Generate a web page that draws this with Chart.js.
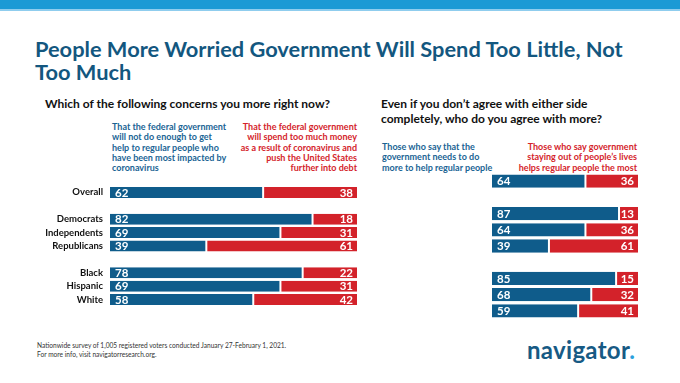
<!DOCTYPE html>
<html>
<head>
<meta charset="utf-8">
<script src="https://cdn.jsdelivr.net/npm/chart.js@4"></script>
<style>
  html,body{margin:0;padding:0;background:#fff;}
  body{width:680px;height:383px;position:relative;overflow:hidden;font-family:"Lato",sans-serif;}
  .abs{position:absolute;white-space:nowrap;}
  #topbar{left:0;top:0;width:680px;height:9px;background:#1b9ad5;}
  #topline{left:0;top:9px;width:680px;height:2px;background:#8fcdee;}
  #title{left:35px;top:37px;font-weight:700;font-size:21.8px;line-height:23px;color:#13577f;}
  .sub{font-weight:700;font-size:12px;line-height:15px;color:#111;}
  .hdr{font-weight:700;font-size:9px;line-height:10.3px;}
  .blue{color:#1a6494;}
  .red{color:#d4242b;text-align:right;}
  #foot{left:37px;top:341px;font-size:6.6px;line-height:9px;color:#333;}
  #logo{left:527px;top:335px;font-weight:700;font-size:24px;color:#175a84;letter-spacing:0.3px;}
  #logo span{color:#2aa0dc;}
  .cwrap{position:absolute;}
</style>
</head>
<body>
<div id="topbar" class="abs"></div>
<div id="topline" class="abs"></div>
<div id="title" class="abs">People More Worried Government Will Spend Too Little, Not<br>Too Much</div>
<div class="abs sub" style="left:45px;top:96px;">Which of the following concerns you more right now?</div>
<div class="abs sub" style="left:381px;top:96px;">Even if you don’t agree with either side<br>completely, who do you agree with more?</div>

<div class="abs hdr blue" style="left:112px;top:122px;">That the federal government<br>will not do enough to get<br>help to regular people who<br>have been most impacted by<br>coronavirus</div>
<div class="abs hdr red" style="right:323px;top:122px;">That the federal government<br>will spend too much money<br>as a result of coronavirus and<br>push the United States<br>further into debt</div>

<div class="abs hdr blue" style="left:382px;top:142px;">Those who say that the<br>government needs to do<br>more to help regular people</div>
<div class="abs hdr red" style="right:43px;top:142px;">Those who say government<br>staying out of people’s lives<br>helps regular people the most</div>

<div class="cwrap" style="left:0px;top:173px;width:357px;height:146px;"><canvas id="c1"></canvas></div>
<div class="cwrap" style="left:382px;top:173px;width:256px;height:146px;"><canvas id="c2"></canvas></div>

<div id="foot" class="abs">Nationwide survey of 1,005 registered voters conducted January 27-February 1, 2021.<br>For more info, visit navigatorresearch.org.</div>
<div id="logo" class="abs">navigator<span>.</span></div>

<script>
const categories = ["Overall", "", "Democrats", "Independents", "Republicans", "", "Black", "Hispanic", "White"];
const leftMoreHelp = [62, null, 82, 69, 39, null, 78, 69, 58];
const leftTooMuch  = [38, null, 18, 31, 61, null, 22, 31, 42];
const rightMoreHelp = [64, null, 87, 64, 39, null, 85, 68, 59];
const rightStayOut  = [36, null, 13, 36, 61, null, 15, 32, 41];

const BLUE = "#0f5c8b";
const RED = "#d3222a";

const valueLabels = {
  id: "valueLabels",
  afterDatasetsDraw(chart) {
    const ctx = chart.ctx;
    ctx.save();
    ctx.font = "700 11.5px Lato, sans-serif";
    ctx.fillStyle = "#fff";
    ctx.textBaseline = "middle";
    chart.data.datasets.forEach((ds, di) => {
      const meta = chart.getDatasetMeta(di);
      meta.data.forEach((el, i) => {
        const v = ds.data[i];
        if (v == null) return;
        const left = Math.min(el.x, el.base), right = Math.max(el.x, el.base);
        if (di === 0) { ctx.textAlign = "left"; ctx.fillText(String(v), left + 5, el.y + 0.5); }
        else { ctx.textAlign = "right"; ctx.fillText(String(v), right - 4, el.y + 0.5); }
      });
    });
    ctx.restore();
  }
};

function makeChart(id, a, b, showLabels) {
  return new Chart(document.getElementById(id), {
    type: "bar",
    data: {
      labels: categories,
      datasets: [
        { data: a, backgroundColor: BLUE, borderColor: "#fff", borderWidth: {top:0,bottom:0,left:0,right:1}, borderSkipped: false },
        { data: b, backgroundColor: RED, borderColor: "#fff", borderWidth: {top:0,bottom:0,left:1,right:0}, borderSkipped: false }
      ]
    },
    options: {
      indexAxis: "y",
      responsive: true,
      maintainAspectRatio: false,
      animation: false,
      layout: { padding: 0 },
      barPercentage: 0.82,
      categoryPercentage: 1.0,
      plugins: { legend: { display: false }, tooltip: { enabled: false } },
      scales: {
        x: { stacked: true, min: 0, max: 100, display: false },
        y: {
          stacked: true,
          display: showLabels,
          grid: { display: false, drawTicks: false },
          border: { display: false },
          ticks: { color: "#111", font: { family: "Lato", weight: "700", size: 9.5 }, padding: 7 },
          afterFit(scale) { scale.width = 110; }
        }
      }
    },
    plugins: [valueLabels]
  });
}
makeChart("c1", leftMoreHelp, leftTooMuch, true);
makeChart("c2", rightMoreHelp, rightStayOut, false);
</script>
</body>
</html>
